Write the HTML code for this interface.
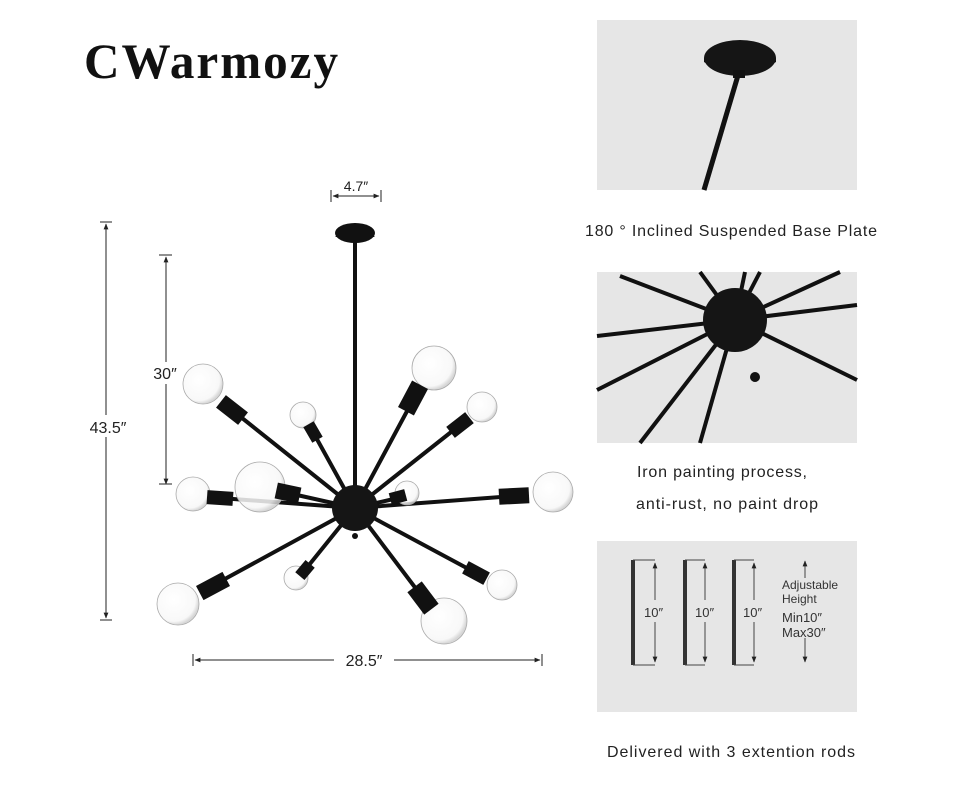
<!DOCTYPE html>
<html><head><meta charset="utf-8"><style>
body{margin:0;width:960px;height:782px;background:#fff;overflow:hidden;font-family:"Liberation Sans",sans-serif}
</style></head><body>
<svg width="960" height="782" viewBox="0 0 960 782" xmlns="http://www.w3.org/2000/svg" font-family="Liberation Sans, sans-serif">
<defs>
<radialGradient id="b" cx="0.4" cy="0.4" r="0.6"><stop offset="0" stop-color="#fff"/><stop offset="0.85" stop-color="#f7f7f7"/><stop offset="1" stop-color="#d0d0d0"/></radialGradient>
<marker id="ar" viewBox="0 0 10 10" refX="9" refY="5" markerWidth="6" markerHeight="6" orient="auto-start-reverse"><path d="M0,1 L10,5 L0,9z" fill="#222"/></marker>
</defs>
<text x="84" y="78" font-family="Liberation Serif, serif" font-size="50" font-weight="bold" letter-spacing="2" fill="#111" textLength="256" lengthAdjust="spacingAndGlyphs">CWarmozy</text>

<g stroke="#222" stroke-width="1" fill="none">
<line x1="106" y1="224" x2="106" y2="618" marker-start="url(#ar)" marker-end="url(#ar)"/>
<line x1="100" y1="222" x2="112" y2="222"/><line x1="100" y1="620" x2="112" y2="620"/>
<line x1="166" y1="257" x2="166" y2="484" marker-start="url(#ar)" marker-end="url(#ar)"/>
<line x1="159" y1="255" x2="172" y2="255"/><line x1="159" y1="484" x2="172" y2="484"/>
<line x1="195" y1="660" x2="540" y2="660" marker-start="url(#ar)" marker-end="url(#ar)"/>
<line x1="193" y1="654" x2="193" y2="666"/><line x1="542" y1="654" x2="542" y2="666"/>
<line x1="333" y1="196" x2="379" y2="196" marker-start="url(#ar)" marker-end="url(#ar)"/>
<line x1="331" y1="190" x2="331" y2="202"/><line x1="381" y1="190" x2="381" y2="202"/>
</g>
<rect x="86" y="415" width="44" height="22" fill="#fff"/>
<text x="108" y="433" font-size="16" text-anchor="middle" fill="#222">43.5″</text>
<rect x="146" y="362" width="40" height="22" fill="#fff"/>
<text x="165" y="379" font-size="16" text-anchor="middle" fill="#222">30″</text>
<rect x="334" y="648" width="60" height="22" fill="#fff"/>
<text x="364" y="666" font-size="16" text-anchor="middle" fill="#222">28.5″</text>
<text x="356" y="191" font-size="14" text-anchor="middle" fill="#222">4.7″</text>

<g stroke="#111" stroke-width="4" stroke-linecap="round">
<line x1="355" y1="235" x2="355" y2="500"/>
<line x1="355" y1="508" x2="232" y2="410"/>
<line x1="355" y1="508" x2="313" y2="432"/>
<line x1="355" y1="508" x2="413" y2="400"/>
<line x1="355" y1="508" x2="460" y2="425"/>
<line x1="355" y1="508" x2="220" y2="498"/>
<line x1="355" y1="508" x2="288" y2="493"/>
<line x1="355" y1="508" x2="398" y2="498"/>
<line x1="355" y1="508" x2="514" y2="496"/>
<line x1="355" y1="508" x2="212" y2="586"/>
<line x1="355" y1="508" x2="305" y2="570"/>
<line x1="355" y1="508" x2="423" y2="598"/>
<line x1="355" y1="508" x2="476" y2="573"/>
</g>
<path d="M335,237 Q355,220 375,237 Z" fill="#111"/>
<ellipse cx="355" cy="233" rx="20" ry="10" fill="#111"/>
<g fill="url(#b)" stroke="#aaa" stroke-width="0.8" fill-opacity="0.85">
<circle cx="203" cy="384" r="20"/><circle cx="303" cy="415" r="13"/>
<circle cx="434" cy="368" r="22"/><circle cx="482" cy="407" r="15"/>
<circle cx="193" cy="494" r="17"/><circle cx="260" cy="487" r="25"/>
<circle cx="407" cy="493" r="12"/><circle cx="553" cy="492" r="20"/>
<circle cx="178" cy="604" r="21"/><circle cx="296" cy="578" r="12"/>
<circle cx="444" cy="621" r="23"/><circle cx="502" cy="585" r="15"/>
</g>
<g fill="#111">
<rect x="-14" y="-8" width="28" height="16" transform="translate(232,410) rotate(38)"/>
<rect x="-9" y="-6" width="18" height="12" transform="translate(313,432) rotate(60)"/>
<rect x="-15" y="-9" width="30" height="18" transform="translate(413,398) rotate(-62)"/>
<rect x="-12" y="-7" width="24" height="14" transform="translate(460,425) rotate(-38)"/>
<rect x="-13" y="-7" width="26" height="14" transform="translate(220,498) rotate(4)"/>
<rect x="-12" y="-8" width="24" height="16" transform="translate(288,493) rotate(12)"/>
<rect x="-8" y="-6" width="16" height="12" transform="translate(398,497) rotate(-15)"/>
<rect x="-15" y="-8" width="30" height="16" transform="translate(514,496) rotate(-3)"/>
<rect x="-15" y="-8" width="30" height="16" transform="translate(213,586) rotate(-28)"/>
<rect x="-8" y="-6" width="16" height="12" transform="translate(305,570) rotate(-50)"/>
<rect x="-14" y="-9" width="28" height="18" transform="translate(423,598) rotate(53)"/>
<rect x="-12" y="-7" width="24" height="14" transform="translate(476,573) rotate(28)"/>
</g>
<circle cx="355" cy="508" r="23" fill="#151515"/>
<circle cx="355" cy="536" r="3" fill="#111"/>

<rect x="597" y="20" width="260" height="170" fill="#e6e6e6"/>
<line x1="739" y1="72" x2="704" y2="190" stroke="#111" stroke-width="5"/>
<path d="M704,58 Q740,30 776,58 L776,62 Q740,85 704,62Z" fill="#111"/>
<ellipse cx="740" cy="58" rx="36" ry="18" fill="#151515"/>
<rect x="733" y="70" width="12" height="8" fill="#111"/>
<text x="731" y="236" font-size="16" text-anchor="middle" fill="#222" textLength="292" lengthAdjust="spacing">180 ° Inclined Suspended Base Plate</text>

<rect x="597" y="272" width="260" height="171" fill="#e6e6e6"/>
<g stroke="#111" stroke-width="4">
<line x1="735" y1="320" x2="620" y2="276"/><line x1="735" y1="320" x2="700" y2="272"/>
<line x1="735" y1="320" x2="745" y2="272"/><line x1="735" y1="320" x2="760" y2="272"/>
<line x1="735" y1="320" x2="840" y2="272"/><line x1="735" y1="320" x2="857" y2="305"/>
<line x1="735" y1="320" x2="857" y2="380"/><line x1="735" y1="320" x2="597" y2="336"/>
<line x1="735" y1="320" x2="597" y2="390"/><line x1="735" y1="320" x2="640" y2="443"/>
<line x1="735" y1="320" x2="700" y2="443"/>
</g>
<circle cx="735" cy="320" r="32" fill="#151515"/>
<circle cx="755" cy="377" r="5" fill="#111"/>
<text x="722" y="477" font-size="16" text-anchor="middle" fill="#222" textLength="170" lengthAdjust="spacing">Iron painting process,</text>
<text x="727" y="509" font-size="16" text-anchor="middle" fill="#222" textLength="182" lengthAdjust="spacing">anti-rust, no paint drop</text>

<rect x="597" y="541" width="260" height="171" fill="#e6e6e6"/>
<g fill="#333"><rect x="631" y="560" width="4" height="105"/><rect x="683" y="560" width="4" height="105"/><rect x="732" y="560" width="4" height="105"/></g>
<g stroke="#444" stroke-width="1" fill="none">
<path d="M633,560 H655 M633,665 H655 M685,560 H705 M685,665 H705 M734,560 H754 M734,665 H754"/>
<line x1="655" y1="563" x2="655" y2="600" marker-start="url(#ar)"/><line x1="655" y1="622" x2="655" y2="662" marker-end="url(#ar)"/>
<line x1="705" y1="563" x2="705" y2="600" marker-start="url(#ar)"/><line x1="705" y1="622" x2="705" y2="662" marker-end="url(#ar)"/>
<line x1="754" y1="563" x2="754" y2="600" marker-start="url(#ar)"/><line x1="754" y1="622" x2="754" y2="662" marker-end="url(#ar)"/>
<line x1="805" y1="561" x2="805" y2="578" marker-start="url(#ar)"/><line x1="805" y1="638" x2="805" y2="662" marker-end="url(#ar)"/>
</g>
<g font-size="13" fill="#333">
<text x="644" y="617">10″</text><text x="695" y="617">10″</text><text x="743" y="617">10″</text>
<text x="782" y="589" font-size="12">Adjustable</text><text x="782" y="603" font-size="12">Height</text>
<text x="782" y="622">Min10″</text><text x="782" y="637">Max30″</text>
</g>
<text x="731" y="757" font-size="16" text-anchor="middle" fill="#222" textLength="248" lengthAdjust="spacing">Delivered with 3 extention rods</text>
</svg>
</body></html>
